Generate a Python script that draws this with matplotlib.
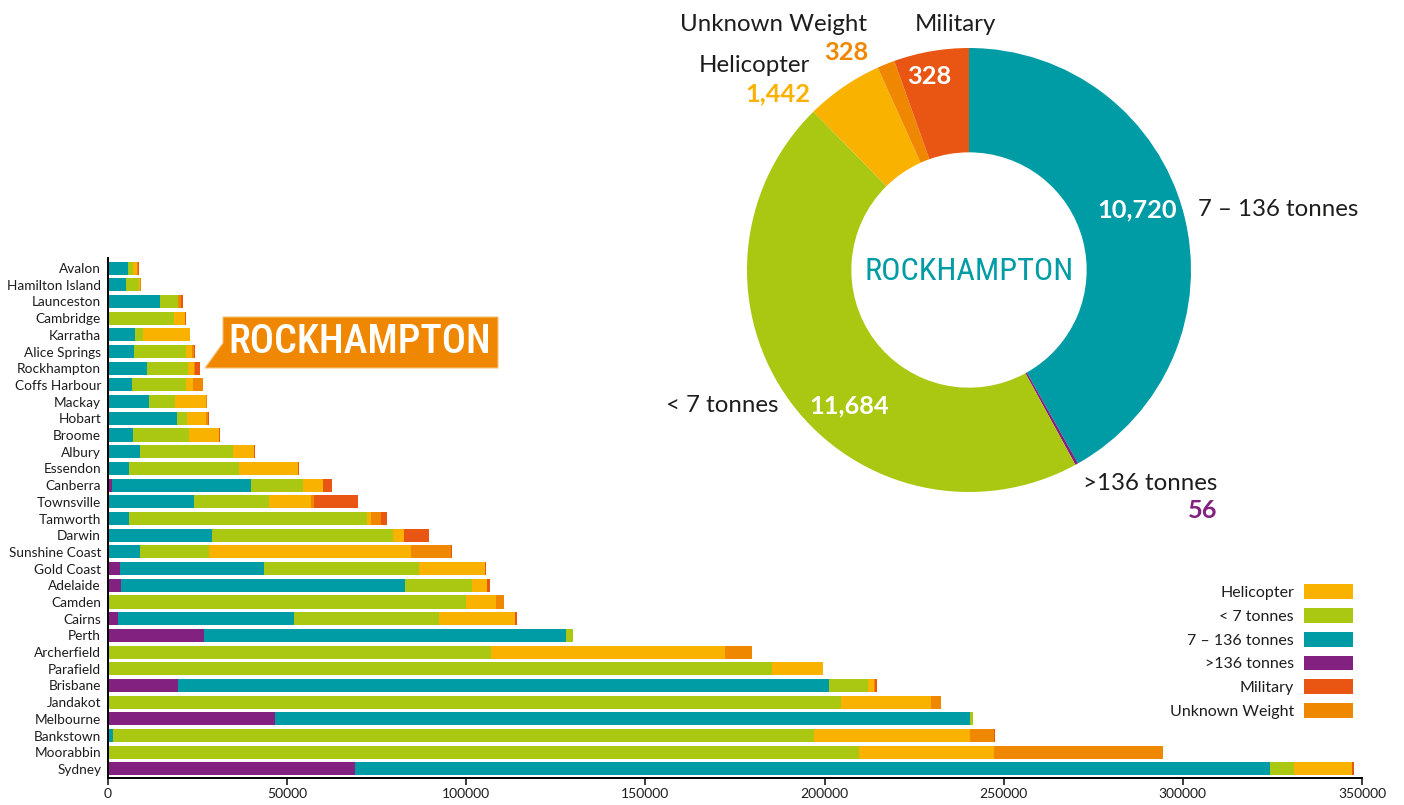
import numpy as np
import matplotlib
matplotlib.use('Agg')
import matplotlib.pyplot as plt
from matplotlib import font_manager as fm
from matplotlib.patches import Polygon, Patch

# ---- data -------------------------------------------------------------
airports = ["Avalon", "Hamilton Island", "Launceston", "Cambridge", "Karratha",
            "Alice Springs", "Rockhampton", "Coffs Harbour", "Mackay", "Hobart",
            "Broome", "Albury", "Essendon", "Canberra", "Townsville", "Tamworth",
            "Darwin", "Sunshine Coast", "Gold Coast", "Adelaide", "Camden",
            "Cairns", "Perth", "Archerfield", "Parafield", "Brisbane", "Jandakot",
            "Melbourne", "Bankstown", "Moorabbin", "Sydney"]

heavy   = [0, 0, 0, 0, 0, 0, 56, 0, 0, 0, 0, 0, 0, 1000, 0, 0, 0, 0, 3400, 3700,
           0, 2750, 26800, 0, 0, 19600, 0, 46600, 0, 0, 68900]
medium  = [5600, 4900, 14500, 0, 7400, 7200, 10720, 6700, 11350, 19200, 7100, 8800,
           6000, 38800, 23900, 6000, 29000, 8800, 40100, 79300, 0, 49200, 101000,
           0, 0, 181500, 400, 194100, 1400, 0, 255300]
light   = [1400, 3700, 5000, 18300, 2300, 14500, 11684, 15000, 7350, 2900, 15400,
           26000, 30500, 14600, 21000, 66400, 50600, 19300, 43400, 18700, 100000,
           40350, 2100, 106900, 185400, 11000, 204200, 800, 195600, 209500, 6900]
heli    = [1100, 200, 0, 3200, 13300, 1800, 1442, 2000, 8600, 5300, 8400, 5900,
           16500, 5500, 11700, 1100, 3100, 56600, 18300, 4200, 8400, 21300, 0,
           65200, 14100, 1600, 25100, 0, 43700, 37700, 16000]
unknown = [200, 300, 1000, 0, 0, 500, 328, 2800, 300, 500, 0, 0, 0, 0, 900, 2600,
           0, 11000, 0, 0, 2000, 0, 0, 7600, 0, 400, 2700, 0, 6600, 47200, 0]
military = [300, 0, 400, 300, 0, 300, 1400, 0, 0, 400, 400, 200, 300, 2500, 12300,
            1650, 7000, 200, 200, 600, 0, 500, 0, 0, 0, 400, 0, 0, 300, 0, 800]

# Rockhampton donut (wedges follow the drawn slices, labels show printed figures)
pie_names  = ["7 – 136 tonnes", ">136 tonnes", "< 7 tonnes", "Helicopter",
              "Unknown Weight", "Military"]
pie_values = [10720, 56, 11684, 1442, 328, 1400]
pie_printed = ["10,720", "56", "11,684", "1,442", "328", "328"]

legend_labels = ["Helicopter", "< 7 tonnes", "7 – 136 tonnes", ">136 tonnes",
                 "Military", "Unknown Weight"]

C_HELI = '#F9B200'
C_LIGHT = '#AAC812'
C_MED = '#009CA6'
C_HEAVY = '#82217F'
C_MIL = '#E95513'
C_UNK = '#F08700'
TXT = '#1d1d1b'

names = {f.name for f in fm.fontManager.ttflist}
base_font = 'Lato' if 'Lato' in names else 'DejaVu Sans'
cond_font = 'DejaVu Sans'
for cand in ['Roboto Condensed', 'Liberation Sans Narrow', 'DejaVu Sans Condensed']:
    if cand in names:
        cond_font = cand
        break
plt.rcParams['font.family'] = [base_font, 'DejaVu Sans']

W, H = 1404, 805
fig = plt.figure(figsize=(W / 100, H / 100), dpi=100)


def fx(px):
    return px / W


def fy(py):
    return 1 - py / H


# ---- stacked bars ----------------------------------------------------
ax = fig.add_axes([fx(108), fy(778), fx(1362) - fx(108), fy(258) - fy(778)])
ax.patch.set_alpha(0)
y = np.arange(len(airports))
left = np.zeros(len(airports))
for vals, col in [(heavy, C_HEAVY), (medium, C_MED), (light, C_LIGHT),
                  (heli, C_HELI), (unknown, C_UNK), (military, C_MIL)]:
    ax.barh(y, vals, left=left, height=0.78, color=col, linewidth=0)
    left += np.array(vals)

ax.set_ylim(len(airports) - 0.46, -0.6)
ax.set_xlim(0, 350000)
ax.set_xticks(np.arange(0, 350001, 50000))
ax.set_yticks(y)
ax.set_yticklabels(airports, fontsize=9.8, color=TXT)
ax.tick_params(axis='y', length=0, pad=5)
ax.tick_params(axis='x', length=5, width=1.2, labelsize=10, colors=TXT, pad=2)
for s in ['top', 'right']:
    ax.spines[s].set_visible(False)
ax.spines['left'].set_linewidth(1.4)
ax.spines['bottom'].set_linewidth(1.4)

handles = [Patch(facecolor=c, edgecolor='none') for c in
           [C_HELI, C_LIGHT, C_MED, C_HEAVY, C_MIL, C_UNK]]
fig.legend(handles, legend_labels, loc='upper right',
           bbox_to_anchor=(fx(1353), fy(584)), bbox_transform=fig.transFigure,
           frameon=False, markerfirst=False, fontsize=11.5, handlelength=3.05,
           handleheight=1.05, labelspacing=0.5, handletextpad=0.65,
           borderpad=0, borderaxespad=0, labelcolor=TXT)

# callout box
pts = [(223, 317), (498, 317), (498, 368), (205, 368), (223, 343)]
fig.patches.append(Polygon([(fx(a), fy(b)) for a, b in pts], closed=True,
                           transform=fig.transFigure, facecolor=C_UNK,
                           edgecolor='#f6c27a', linewidth=0.8))
call_txt = fig.text(fx(360), fy(342), "ROCKHAMPTON", color='white',
                    family=[cond_font, 'DejaVu Sans'], fontstretch='condensed',
                    fontweight='medium', fontsize=38, ha='center', va='center')

# ---- donut ------------------------------------------------------------
R = 222
pax = fig.add_axes([fx(969 - 250), fy(270 + 250), 500 / W, 500 / H])
pax.pie(pie_values, colors=[C_MED, C_HEAVY, C_LIGHT, C_HELI, C_UNK, C_MIL],
        startangle=90, counterclock=False, radius=1,
        wedgeprops=dict(width=0.47, linewidth=0))
pax.set_xlim(-250 / R, 250 / R)
pax.set_ylim(-250 / R, 250 / R)
pax.set_aspect('equal')
pax.axis('off')


def pt(px, py):
    return (px - 969) / R, (270 - py) / R


reg = 17.3
bold = dict(fontsize=18.3, fontweight='bold')
pax.text(*pt(774, 25), "Unknown Weight", fontsize=reg, color=TXT, ha='center', va='center')
pax.text(*pt(868, 53), pie_printed[4], color=C_UNK, ha='right', va='center', **bold)
pax.text(*pt(955, 25), "Military", fontsize=reg, color=TXT, ha='center', va='center')
pax.text(*pt(810, 66), "Helicopter", fontsize=reg, color=TXT, ha='right', va='center')
pax.text(*pt(810, 94), pie_printed[3], color=C_HELI, ha='right', va='center', **bold)
pax.text(*pt(929, 77), pie_printed[5], color='white', ha='center', va='center', **bold)
pax.text(*pt(1137, 210), pie_printed[0], color='white', ha='center', va='center', **bold)
pax.text(*pt(1198, 210), pie_names[0], fontsize=reg, color=TXT, ha='left', va='center')
pax.text(*pt(778, 406), pie_names[2], fontsize=reg, color=TXT, ha='right', va='center')
pax.text(*pt(849, 406), pie_printed[2], color='white', ha='center', va='center', **bold)
pax.text(*pt(1217, 484), pie_names[1], fontsize=reg, color=TXT, ha='right', va='center')
pax.text(*pt(1217, 511), pie_printed[1], color=C_HEAVY, ha='right', va='center', **bold)
pie_txt = pax.text(*pt(969, 271), "ROCKHAMPTON", color=C_MED,
                   family=[cond_font, 'DejaVu Sans'], fontstretch='condensed',
                   fontsize=30, ha='center', va='center')

# fit the condensed titles to the widths seen in the picture
fig.canvas.draw()
r = fig.canvas.get_renderer()
for t, target in [(call_txt, 263), (pie_txt, 209)]:
    w = t.get_window_extent(r).width
    t.set_fontsize(t.get_fontsize() * target / w)

fig.savefig("out.png", dpi=100)
plt.close('all')
